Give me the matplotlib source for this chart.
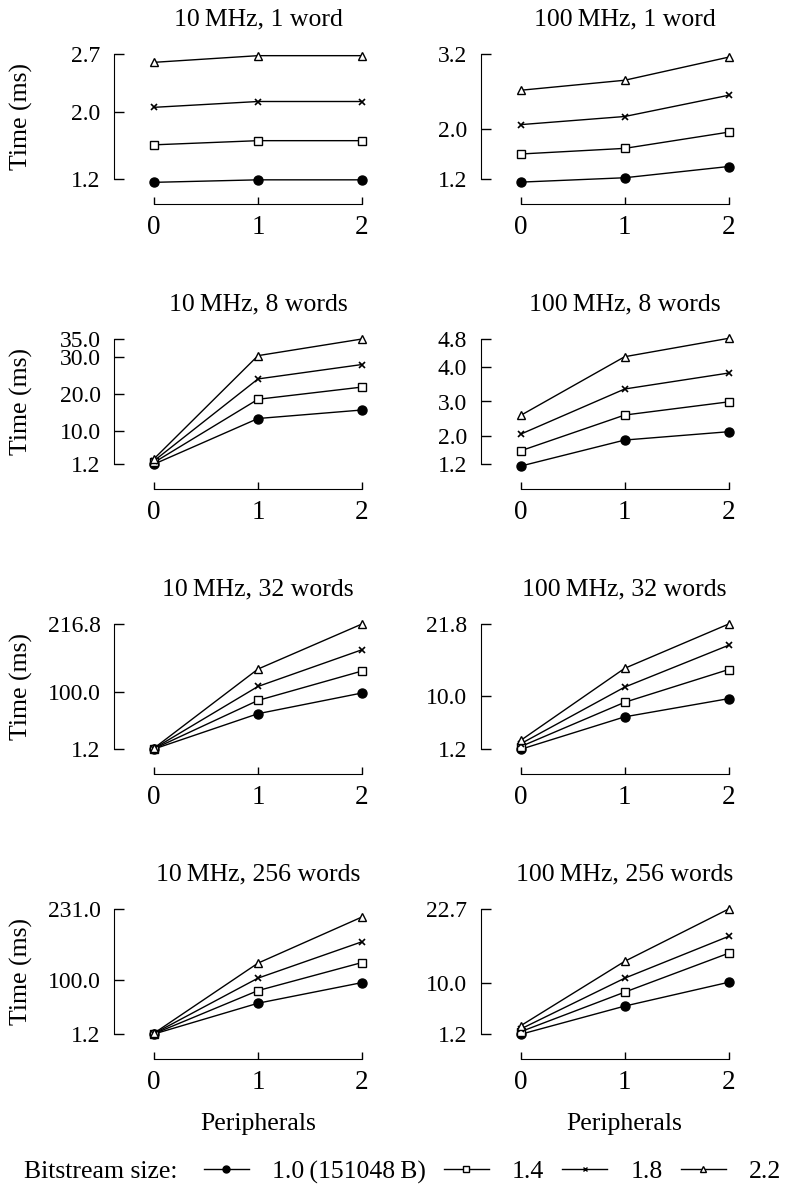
import matplotlib
matplotlib.use("Agg")
import matplotlib.pyplot as plt
from matplotlib.lines import Line2D

plt.rcParams['font.family'] = ['Liberation Serif', 'DejaVu Serif']

# --- data ---
peripherals = [0, 1, 2]
sizes = ["1.0\u2009(151048\u2009B)", "1.4", "1.8", "2.2"]
markers = ["o", "s", "x", "^"]

# 10 MHz
t10_1w = [[1.16, 1.19, 1.19], [1.61, 1.66, 1.66], [2.06, 2.13, 2.13], [2.60, 2.68, 2.68]]
t10_8w = [[1.16, 13.5, 15.8], [1.61, 18.7, 22.0], [2.06, 24.2, 28.1], [2.60, 30.5, 35.0]]
t10_32w = [[1.16, 62.1, 97.8], [1.61, 85.0, 135.7], [2.06, 109.1, 172.4], [2.60, 139.1, 216.8]]
t10_256w = [[1.16, 57.8, 95.7], [1.61, 81.0, 132.6], [2.06, 103.9, 170.8], [2.60, 131.5, 216.3]]
# 100 MHz
t100_1w = [[1.15, 1.22, 1.40], [1.60, 1.69, 1.95], [2.07, 2.20, 2.54], [2.62, 2.78, 3.15]]
t100_8w = [[1.14, 1.89, 2.13], [1.58, 2.61, 2.99], [2.06, 3.36, 3.82], [2.60, 4.29, 4.82]]
t100_32w = [[1.15, 6.5, 9.5], [1.60, 8.9, 14.3], [2.06, 11.4, 18.3], [2.62, 14.5, 21.8]]
t100_256w = [[1.15, 6.0, 10.1], [1.60, 8.4, 15.1], [2.06, 10.8, 18.0], [2.62, 13.7, 22.7]]

titles = [["10\u2009MHz, 1 word", "100\u2009MHz, 1 word"],
          ["10\u2009MHz, 8 words", "100\u2009MHz, 8 words"],
          ["10\u2009MHz, 32 words", "100\u2009MHz, 32 words"],
          ["10\u2009MHz, 256 words", "100\u2009MHz, 256 words"]]
panels = [[t10_1w, t100_1w], [t10_8w, t100_8w], [t10_32w, t100_32w], [t10_256w, t100_256w]]
yticks = [[[1.2, 2.0, 2.7], [1.2, 2.0, 3.2]],
          [[1.2, 10.0, 20.0, 30.0, 35.0], [1.2, 2.0, 3.0, 4.0, 4.8]],
          [[1.2, 100.0, 216.8], [1.2, 10.0, 21.8]],
          [[1.2, 100.0, 231.0], [1.2, 10.0, 22.7]]]

W, H = 799, 1188
fig = plt.figure(figsize=(W / 100, H / 100), dpi=100)

ax_w = 249.6
ax_h = 137.5
lefts = [133.2, 499.9]
top0 = 47.75
row_step = 285

for r in range(4):
    for c in range(2):
        top = top0 + r * row_step
        ax = fig.add_axes([lefts[c] / W, 1 - (top + ax_h) / H, ax_w / W, ax_h / H])
        for series, m in zip(panels[r][c], markers):
            if m == "o":
                ax.plot(peripherals, series, color="black", lw=1.0, marker=m, ms=6.5,
                        mfc="black", mec="black", clip_on=False)
            elif m == "x":
                ax.plot(peripherals, series, color="black", lw=1.0, marker=m, ms=4,
                        mew=1.2, clip_on=False)
            else:
                ax.plot(peripherals, series, color="black", lw=1.0, marker=m,
                        ms=6 if m == "s" else 5.5, mfc="white", mec="black", mew=1.0,
                        clip_on=False)
        tk = yticks[r][c]
        rng = tk[-1] - tk[0]
        ax.set_ylim(tk[0] - 0.05 * rng, tk[-1] + 0.05 * rng)
        ax.set_xlim(-0.2, 2.2)
        ax.set_yticks(tk)
        ax.set_yticklabels([f"{v:.1f}" for v in tk])
        ax.set_xticks(peripherals)
        ax.spines['top'].set_visible(False)
        ax.spines['right'].set_visible(False)
        ax.spines['left'].set_position(('outward', 13.5))
        ax.spines['bottom'].set_position(('outward', 13.5))
        ax.spines['left'].set_bounds(tk[0], tk[-1])
        ax.spines['bottom'].set_bounds(0, 2)
        ax.tick_params(axis='y', direction='in', length=7, width=1, pad=10, labelsize=17)
        ax.tick_params(axis='x', direction='in', length=5, width=1, pad=8, labelsize=19.5)
        ax.set_title(titles[r][c], fontsize=18.5, pad=16)
        if c == 0:
            ax.set_ylabel("Time (ms)", fontsize=18.5)
            ax.yaxis.set_label_coords(-0.40, 0.5)
        if r == 3:
            ax.set_xlabel("Peripherals", fontsize=18.5, labelpad=13)

handles = []
for m in markers:
    if m == "o":
        h = Line2D([], [], color="black", lw=1.0, marker=m, ms=5, mfc="black")
    elif m == "x":
        h = Line2D([], [], color="black", lw=1.0, marker=m, ms=3.5)
    else:
        h = Line2D([], [], color="black", lw=1.0, marker=m, ms=5, mfc="white", mec="black")
    handles.append(h)

fig.text(24 / W, 1 - 1172 / H, "Bitstream size:", fontsize=18.5, va="center", ha="left")
fig.legend(handles, sizes, loc="center left", bbox_to_anchor=(204 / W, 1 - 1172 / H),
           ncol=4, frameon=False, fontsize=18.5, handlelength=1.75, handletextpad=0.9,
           columnspacing=0.7, borderaxespad=0, borderpad=0)

fig.savefig("out.png", dpi=100)
